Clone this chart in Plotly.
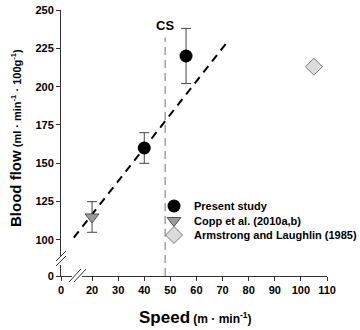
import plotly.graph_objects as go

# ---- data ----
present_x = [40, 56]
present_y = [160, 220]
present_err = [10, 18]

copp_x = [20]
copp_y = [115]
copp_err = [10]

arm_x = [105]
arm_y = [213]

fit_x = [13, 71.5]
fit_y = [101.5, 228.5]

cs_speed = 48
cs_top = 232

x_ticks = [20, 30, 40, 50, 60, 70, 80, 90, 100, 110]
y_ticks = [100, 125, 150, 175, 200, 225, 250]
x_break_pos = 8.1   # axis start shown as "0"
y_break_pos = 76.5  # axis start shown as "0"

FONT = "Liberation Sans, Arial, sans-serif"
W, H = 360, 330

# plot area: 61..327 x 10..276 px
def px(p):
    return (p - 61) / 266.0

def py(p):
    return (276 - p) / 266.0

def cx(p):
    return p / W

def cy(p):
    return 1 - p / H

fig = go.Figure()

fig.add_trace(go.Scatter(x=fit_x, y=fit_y, mode="lines",
                         line=dict(color="black", width=2, dash="8px,6px"),
                         showlegend=False, hoverinfo="skip"))
fig.add_trace(go.Scatter(x=[cs_speed, cs_speed], y=[y_break_pos, cs_top], mode="lines",
                         line=dict(color="#8a8a8a", width=1.2, dash="8px,5px"),
                         showlegend=False, hoverinfo="skip"))

fig.add_trace(go.Scatter(x=present_x, y=present_y, mode="markers", name="Present study",
                         legend="legend",
                         marker=dict(symbol="circle", size=13, color="black"),
                         error_y=dict(type="data", array=present_err, color="#444", thickness=1, width=5)))
fig.add_trace(go.Scatter(x=copp_x, y=copp_y, mode="markers", name="Copp et al. (2010a,b)",
                         legend="legend2",
                         marker=dict(symbol="triangle-down", size=12, color="#9a9a9a",
                                     line=dict(color="#555", width=1)),
                         error_y=dict(type="data", array=copp_err, color="#444", thickness=1, width=5)))
fig.add_trace(go.Scatter(x=arm_x, y=arm_y, mode="markers", name="Armstrong and Laughlin (1985)",
                         legend="legend3",
                         marker=dict(symbol="diamond", size=13, color="#dcdcdc",
                                     line=dict(color="#777", width=1))))

fig.add_annotation(x=cs_speed, y=cs_top, text="<b>CS</b>", showarrow=False,
                   yanchor="bottom", yshift=3, font=dict(size=13, color="black", family=FONT))

# axis titles
fig.add_annotation(xref="paper", yref="paper", x=px(15), y=py(138), textangle=-90,
                   text="<b><span style='font-size:15px'>Blood flow</span> (ml · min<sup>-1</sup> · 100g<sup>-1</sup>)</b>",
                   showarrow=False, xanchor="center", yanchor="middle",
                   font=dict(size=11, family=FONT, color="black"))
fig.add_annotation(xref="paper", yref="paper", x=px(195), y=py(317),
                   text="<b><span style='font-size:17px'>Speed</span> (m · min<sup>-1</sup>)</b>",
                   showarrow=False, xanchor="center", yanchor="middle",
                   font=dict(size=12, family=FONT, color="black"))

shapes = []
# gaps in axis lines
shapes.append(dict(type="rect", xref="paper", yref="paper", x0=px(57), x1=px(65), y0=py(265), y1=py(257),
                   fillcolor="white", line=dict(width=0), layer="above"))
shapes.append(dict(type="rect", xref="paper", yref="paper", x0=px(72), x1=px(82), y0=py(279), y1=py(273),
                   fillcolor="white", line=dict(width=0), layer="above"))
# slashes
for d in (0, 5):
    shapes.append(dict(type="line", xref="paper", yref="paper", x0=px(56), y0=py(266 - d), x1=px(66), y1=py(256 - d),
                       line=dict(color="#333", width=1), layer="above"))
for d in (0, 5):
    shapes.append(dict(type="line", xref="paper", yref="paper", x0=px(69 + d), y0=py(282), x1=px(81 + d), y1=py(269),
                       line=dict(color="#333", width=1), layer="above"))
fig.update_layout(shapes=shapes)

leg_common = dict(xanchor="left", yanchor="middle", bgcolor="rgba(0,0,0,0)",
                  xref="container", yref="container",
                  font=dict(size=11, family=FONT, color="black", weight="bold"),
                  itemwidth=30, borderwidth=0)
leg_x = cx(154)

fig.update_layout(
    width=W, height=H,
    margin=dict(l=61, r=33, t=10, b=54, autoexpand=False),
    paper_bgcolor="white", plot_bgcolor="white",
    font=dict(family=FONT, color="black"),
    showlegend=True,
    legend=dict(x=leg_x, y=cy(206), **leg_common),
    legend2=dict(x=leg_x, y=cy(220.5), **leg_common),
    legend3=dict(x=leg_x, y=cy(235), **leg_common),
    xaxis=dict(range=[x_break_pos, 110], showgrid=False, zeroline=False, automargin=False,
               showline=True, linecolor="#333", linewidth=1,
               ticks="outside", ticklen=4, tickcolor="#333", tickangle=0,
               tickvals=[x_break_pos] + x_ticks, ticktext=["0"] + [str(v) for v in x_ticks],
               tickfont=dict(size=11, family=FONT, weight="bold")),
    yaxis=dict(range=[y_break_pos, 250], showgrid=False, zeroline=False, automargin=False,
               showline=True, linecolor="#333", linewidth=1,
               ticks="outside", ticklen=4, tickcolor="#333",
               tickvals=[y_break_pos] + y_ticks, ticktext=["0"] + [str(v) for v in y_ticks],
               tickfont=dict(size=11, family=FONT, weight="bold")),
)

fig.write_html("out.html",
               config={"displayModeBar": False},
               post_script="document.body.style.margin='0';document.body.style.overflow='hidden';")
